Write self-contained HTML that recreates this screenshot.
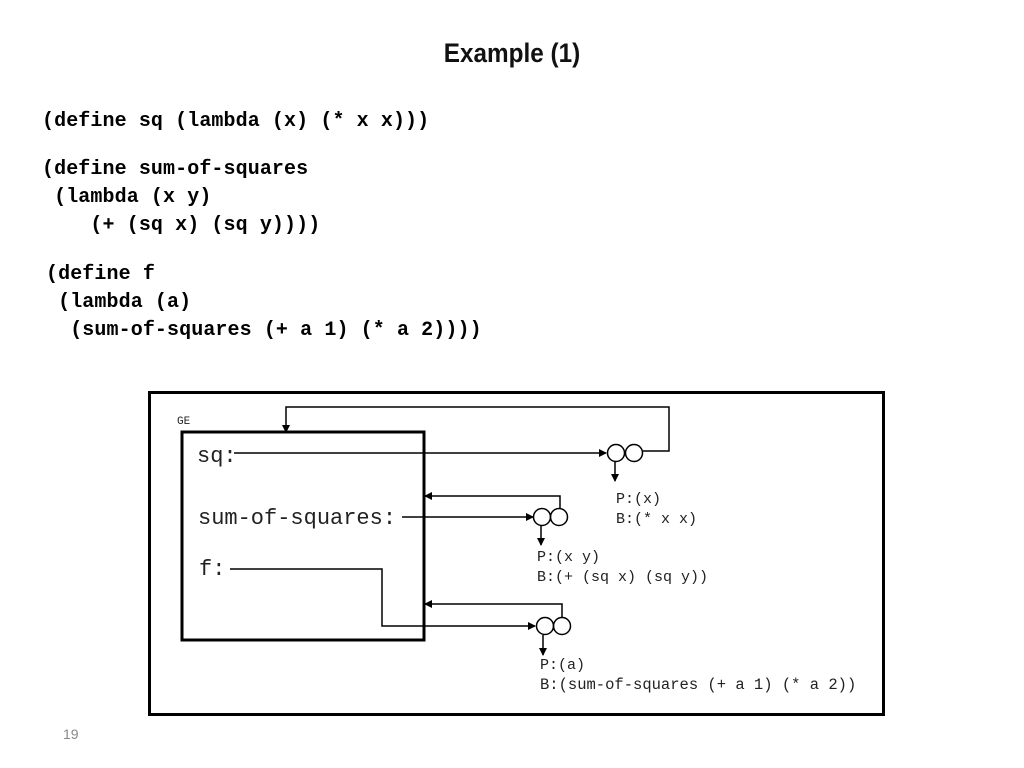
<!DOCTYPE html>
<html><head><meta charset="utf-8"><style>
body{margin:0;background:#fff;width:1024px;height:768px;overflow:hidden;position:relative}
.t{position:absolute;left:0;top:38px;width:1024px;text-align:center;font:bold 27px "Liberation Sans",sans-serif;color:#111;transform:scaleX(0.9)}
.c{position:absolute;font:bold 20px "Liberation Mono",monospace;white-space:pre;color:#000;line-height:28px;letter-spacing:0.1px}
.n{position:absolute;left:63px;top:726px;font:14px "Liberation Sans",sans-serif;color:#888}
</style></head><body>
<div class="t">Example (1)</div>
<div class="c" style="left:42px;top:108px">(define sq (lambda (x) (* x x)))</div>
<div class="c" style="left:42px;top:156px">(define sum-of-squares
 (lambda (x y)
    (+ (sq x) (sq y))))</div>
<div class="c" style="left:46px;top:261px">(define f
 (lambda (a)
  (sum-of-squares (+ a 1) (* a 2))))</div>
<div class="n">19</div>
<svg width="1024" height="768" style="position:absolute;left:0;top:0">
<defs><marker id="a" markerWidth="8" markerHeight="8" refX="7" refY="4" orient="auto" markerUnits="userSpaceOnUse"><path d="M0,0L8,4L0,8z" fill="#000"/></marker></defs>
<rect x="149.5" y="392.5" width="734" height="322" fill="none" stroke="#000" stroke-width="3"/>
<rect x="182" y="432" width="242" height="208" fill="none" stroke="#000" stroke-width="3"/>
<g font-family="Liberation Mono,monospace" fill="#222">
<text x="177" y="424" font-size="11">GE</text>
<text x="197" y="462" font-size="22">sq:</text>
<text x="198" y="524" font-size="22">sum-of-squares:</text>
<text x="199" y="575" font-size="22">f:</text>
<text x="616" y="503" font-size="15">P:(x)</text>
<text x="616" y="523" font-size="15">B:(* x x)</text>
<text x="537" y="561" font-size="15">P:(x y)</text>
<text x="537" y="581" font-size="15">B:(+ (sq x) (sq y))</text>
<text x="540" y="669" font-size="15">P:(a)</text>
<text x="540" y="689" font-size="15.5">B:(sum-of-squares (+ a 1) (* a 2))</text>
</g>
<g fill="none" stroke="#000" stroke-width="1.5">
<line x1="234" y1="453" x2="606" y2="453" marker-end="url(#a)"/>
<circle cx="616" cy="453" r="8.5"/><circle cx="634" cy="453" r="8.5"/>
<line x1="615" y1="462" x2="615" y2="481" marker-end="url(#a)"/>
<polyline points="643,451 669,451 669,407 286,407 286,432" marker-end="url(#a)"/>
<line x1="402" y1="517" x2="533" y2="517" marker-end="url(#a)"/>
<circle cx="542" cy="517" r="8.5"/><circle cx="559" cy="517" r="8.5"/>
<line x1="541" y1="526" x2="541" y2="545" marker-end="url(#a)"/>
<polyline points="560,508 560,496 425,496" marker-end="url(#a)"/>
<polyline points="230,569 382,569 382,626 535,626" marker-end="url(#a)"/>
<circle cx="545" cy="626" r="8.5"/><circle cx="562" cy="626" r="8.5"/>
<line x1="543" y1="635" x2="543" y2="655" marker-end="url(#a)"/>
<polyline points="562,617 562,604 425,604" marker-end="url(#a)"/>
</g>
</svg>
</body></html>
